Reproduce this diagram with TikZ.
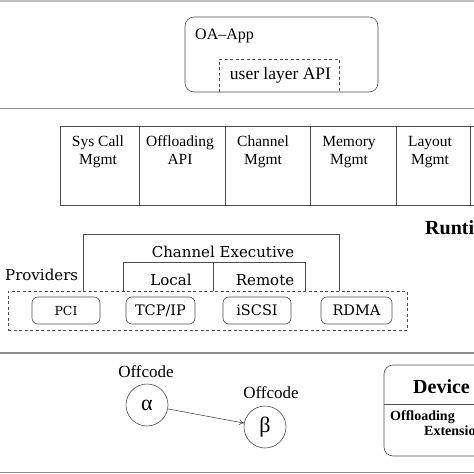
\documentclass[tikz,border=0pt]{standalone}
\usepackage{fontspec}
\setmainfont{Liberation Serif}
\newfontfamily\bookf{DejaVu Serif}
\usetikzlibrary{arrows.meta}
\begin{document}
\begin{tikzpicture}[x=1pt,y=-1pt,
  sep/.style={line width=1.6pt, draw=black!45},
  cell/.style={draw=black!70, line width=0.6pt, minimum height=79pt, inner sep=0pt},
  celltxt/.style={align=center, font=\fontsize{15.5}{17.5}\selectfont, inner sep=0pt},
  main/.style={font=\fontsize{15.5}{18}\selectfont, inner sep=0pt},
  bk/.style={font=\bookf\fontsize{15}{17}\selectfont, inner sep=0pt},
  prov/.style={draw=black!70, line width=0.6pt, rounded corners=6pt, minimum height=27pt, inner sep=0pt, font=\bookf\fontsize{14.5}{16}\selectfont},
  circ/.style={draw=black!70, line width=0.6pt, circle, minimum size=42pt, inner sep=0pt, font=\fontsize{22}{24}\selectfont},
  dsh/.style={draw=black!70, line width=0.6pt, dash pattern=on 3pt off 2.5pt},
  solid line/.style={draw=black!70, line width=0.6pt}
]
\useasboundingbox (0,0) rectangle (474,474);
\clip (0,0) rectangle (474,474);

% layer separators
\draw[sep, draw=black!25] (0,1) -- (474,1);
\draw[sep] (0,108.5) -- (474,108.5);
\draw[sep] (0,353) -- (474,353);
\draw[sep] (0,472.5) -- (474,472.5);

% OA-App
\node[solid line, draw, rounded corners=9pt, minimum width=193pt, minimum height=75pt, inner sep=0pt] (oa) at (281.5,54.5) {};
\node[main, anchor=west, font=\fontsize{16}{18}\selectfont] (oat) at (195,36) {OA--App};
\coordinate (u1) at (219,92);
\coordinate (u2) at (339,92);
\draw[dsh] (u1) |- (339,59) -- (u2);
\node[main, font=\fontsize{17.5}{19}\selectfont] (ula) at (280.5,75) {user layer API};

% Runtime cells
\node[cell, minimum width=79pt] (c1) at (99.5,165.5) {};
\node[cell, minimum width=86pt] (c2) at (182,165.5) {};
\node[cell, minimum width=85pt] (c3) at (267.5,165.5) {};
\node[cell, minimum width=86pt] (c4) at (353,165.5) {};
\node[cell, minimum width=74pt] (c5) at (433,165.5) {};
\node[cell, minimum width=60pt] (c6) at (500,165.5) {};
\node[celltxt] (t1) at (98,152) {Sys Call\strut\\Mgmt\strut};
\node[celltxt] (t2) at (180,152) {Offloading\strut\\API\strut};
\node[celltxt] (t3) at (263,152) {Channel\strut\\Mgmt\strut};
\node[celltxt] (t4) at (349,152) {Memory\strut\\Mgmt\strut};
\node[celltxt] (t5) at (430,152) {Layout\strut\\Mgmt\strut};
\node[font=\bfseries\fontsize{20}{22}\selectfont, inner sep=0pt, anchor=west] (rt) at (425,228) {Runtime};

% Channel Executive
\coordinate (ce1) at (83,291);
\coordinate (ce2) at (339,291);
\draw[solid line] (ce1) |- (339,234) -- (ce2);
\node[bk] (cet) at (223,252) {Channel Executive};
\coordinate (lr1) at (123,291);
\coordinate (lr2) at (305,291);
\coordinate (lr3) at (213,262);
\draw[solid line] (lr1) |- (305,262) -- (lr2);
\draw[solid line] (lr3) -- (213,291);
\node[bk] (loc) at (171,280) {Local};
\node[bk] (rem) at (265,280) {Remote};

% Providers
\node[bk, anchor=west] (pv) at (5,275) {Providers};
\node[dsh, draw, minimum width=399pt, minimum height=39pt, inner sep=0pt] (pbox) at (207.5,310.5) {};
\node[prov, minimum width=68pt] (pci) at (66,310.5) {\fontsize{12.5}{14}\selectfont PCI};
\node[prov, minimum width=69pt] (tcp) at (160.5,310.5) {TCP/IP};
\node[prov, minimum width=68pt] (iscsi) at (257,310.5) {iSCSI};
\node[prov, minimum width=71pt] (rdma) at (356.5,310.5) {RDMA};

% Offcode
\node[circ] (alpha) at (147,405) {α};
\node[circ] (beta) at (265,427) {β};
\node[main, font=\fontsize{17}{19}\selectfont] (oc1) at (146,372) {Offcode};
\node[main, font=\fontsize{17}{19}\selectfont] (oc2) at (271,393) {Offcode};
\draw[solid line, -{To[length=5pt,width=6pt]}] (alpha) -- (beta);

% Device
\node[solid line, draw, rounded corners=9pt, minimum width=140pt, minimum height=91pt, inner sep=0pt] (dev) at (454,410.5) {};
\coordinate (d1) at (384,404);
\draw[solid line] (d1) -- (474,404);
\node[font=\bfseries\fontsize{20}{22}\selectfont, inner sep=0pt, anchor=west] (devt) at (413,387) {Device};
\node[font=\bfseries\fontsize{14}{16}\selectfont, inner sep=0pt, anchor=west] (off) at (390,417) {Offloading};
\node[font=\bfseries\fontsize{14}{16}\selectfont, inner sep=0pt, anchor=west] (ext) at (424,431) {Extensions};
\end{tikzpicture}
\end{document}
